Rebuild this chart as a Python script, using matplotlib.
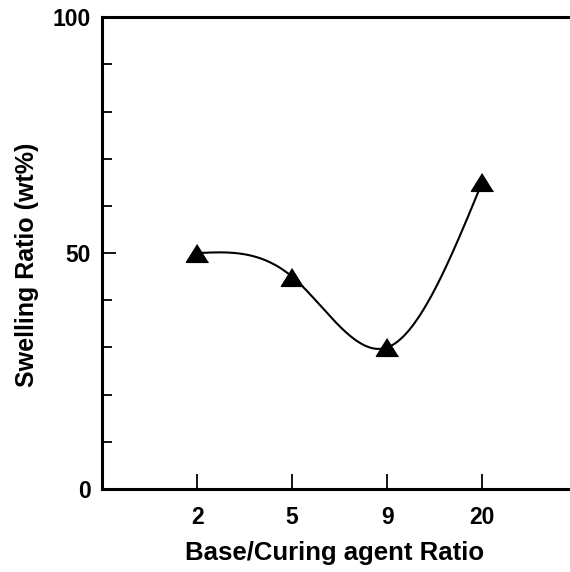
import numpy as np
import matplotlib
matplotlib.use("Agg")
import matplotlib.pyplot as plt

plt.rcParams['font.family'] = ['Liberation Sans', 'DejaVu Sans']
plt.rcParams['font.weight'] = 'bold'

# Dados
razoes = ["2", "5", "9", "20"]
inchamento = [50, 45, 30, 65]
posicoes = [1, 2, 3, 4]


def spline_natural(x, y, n=200):
    # spline cúbica natural, só para desenhar a curva suave entre os pontos
    x = np.asarray(x, float)
    y = np.asarray(y, float)
    k = len(x)
    h = np.diff(x)
    A = np.zeros((k, k))
    b = np.zeros(k)
    A[0, 0] = A[-1, -1] = 1
    for i in range(1, k - 1):
        A[i, i - 1] = h[i - 1]
        A[i, i] = 2 * (h[i - 1] + h[i])
        A[i, i + 1] = h[i]
        b[i] = 6 * ((y[i + 1] - y[i]) / h[i] - (y[i] - y[i - 1]) / h[i - 1])
    M = np.linalg.solve(A, b)
    xs = np.linspace(x[0], x[-1], n)
    ys = np.empty_like(xs)
    for j, t in enumerate(xs):
        i = min(np.searchsorted(x, t, side='right') - 1, k - 2)
        a = x[i + 1] - t
        c = t - x[i]
        ys[j] = (M[i] * a**3 + M[i + 1] * c**3) / (6 * h[i]) \
            + (y[i] / h[i] - M[i] * h[i] / 6) * a \
            + (y[i + 1] / h[i] - M[i + 1] * h[i] / 6) * c
    return xs, ys


fig = plt.figure(figsize=(5.7, 5.72), dpi=100)
ax = fig.add_axes([0.179, 0.145, 0.817, 0.825])

xs, ys = spline_natural(posicoes, inchamento)
ax.plot(xs, ys, color='black', lw=1.5, zorder=2)
triangulo = [(0, 0.8), (-1, -0.8), (1, -0.8)]
ax.plot(posicoes, inchamento, linestyle='none', marker=triangulo,
        markersize=16, color='black', zorder=3)

ax.set_xlim(0, 4.9)
ax.set_ylim(0, 100)
ax.set_xticks(posicoes)
ax.set_xticklabels(razoes)
ax.set_yticks([0, 50, 100])
ax.set_yticks(np.arange(10, 100, 10), minor=True)

ax.spines['right'].set_visible(False)
for lado in ['left', 'bottom', 'top']:
    ax.spines[lado].set_linewidth(2.2)

ax.tick_params(axis='x', direction='in', length=11, width=1.3, labelsize=16.5, pad=12)
ax.tick_params(axis='y', which='major', direction='in', length=10, width=1.3,
               labelsize=16.5, pad=8)
ax.tick_params(axis='y', which='minor', direction='in', length=7, width=1.3)
for lbl in ax.get_xticklabels() + ax.get_yticklabels():
    lbl.set_fontweight('bold')

ax.set_xlabel('Base/Curing agent Ratio', fontsize=18.5, fontweight='bold', labelpad=9)
ax.set_ylabel('Swelling Ratio (wt%)', fontsize=18, fontweight='bold')
ax.yaxis.set_label_coords(-0.135, 0.475)

plt.savefig('out.png', dpi=100)
plt.close()
